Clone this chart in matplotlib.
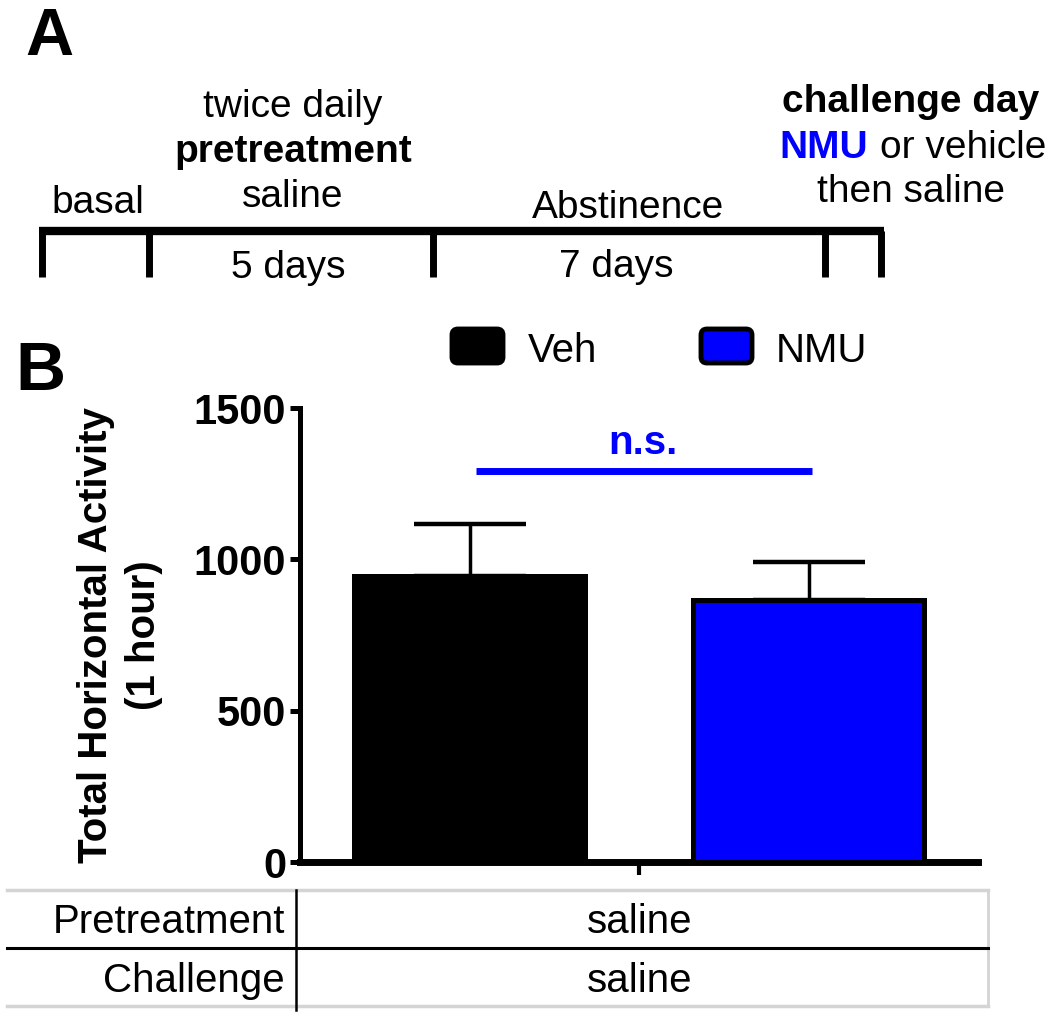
import matplotlib
matplotlib.use('Agg')
import matplotlib.pyplot as plt
from matplotlib.patches import FancyBboxPatch

plt.rcParams['font.family'] = ['Liberation Sans', 'DejaVu Sans']

# bar data (panel B)
groups = ['Veh', 'NMU']
means = [945, 866]
sems = [172, 125]
bar_colors = ['#000000', '#0000ff']
sig_level = 1292
sig_text = 'n.s.'
y_ticks = [0, 500, 1000, 1500]

# table under the bars
row_labels = ['Pretreatment', 'Challenge']
row_values = ['saline', 'saline']

W, H = 1050, 1018
fig = plt.figure(figsize=(W / 100, H / 100), dpi=100)

# overlay in pixel coords for the schematic, legend and table
ov = fig.add_axes([0, 0, 1, 1], zorder=0)
ov.set_xlim(0, W)
ov.set_ylim(H, 0)
ov.axis('off')

# ---- panel A: timeline ----
fs = 28
ov.text(25, 55, 'A', fontsize=48, fontweight='bold', va='baseline')
ov.plot([39, 884], [231, 231], color='k', lw=6, solid_capstyle='butt')
for x in [41.5, 149, 433, 825, 881]:
    ov.plot([x, x], [231, 277], color='k', lw=5, solid_capstyle='butt')
ov.text(98, 213, 'basal', fontsize=fs, ha='center', va='baseline')
ov.text(293, 117, 'twice daily', fontsize=fs, ha='center', va='baseline')
ov.text(293, 162, 'pretreatment', fontsize=fs, fontweight='bold', ha='center', va='baseline')
ov.text(293, 207, 'saline', fontsize=fs, ha='center', va='baseline')
ov.text(628, 218, 'Abstinence', fontsize=fs, ha='center', va='baseline')
ov.text(288, 278, '5 days', fontsize=fs, ha='center', va='baseline')
ov.text(616, 277, '7 days', fontsize=fs, ha='center', va='baseline')
ov.text(911, 112, 'challenge day', fontsize=fs, fontweight='bold', ha='center', va='baseline')
ov.text(779, 158, 'NMU', fontsize=fs, fontweight='bold', color='#0000ff', va='baseline')
ov.text(1046, 158, 'or vehicle', fontsize=fs, ha='right', va='baseline')
ov.text(911, 202, 'then saline', fontsize=fs, ha='center', va='baseline')

# ---- panel B label + legend ----
ov.text(15, 390, 'B', fontsize=50, fontweight='bold', va='baseline')
for (px, tx), lab, col in zip([(450, 528), (699, 776)], groups, bar_colors):
    ov.add_patch(FancyBboxPatch((px + 2, 329), 51, 34, boxstyle='round,pad=0,rounding_size=6',
                                facecolor=col, edgecolor='k', lw=3.5))
    ov.text(tx, 362, lab, fontsize=29, va='baseline')

# ---- table ----
gray = '#d4d4d4'
ov.plot([7, 988], [890, 890], color=gray, lw=2.5)
ov.plot([7, 988], [1006, 1006], color=gray, lw=2.5)
ov.plot([988, 988], [890, 1006], color=gray, lw=2)
ov.plot([7, 988], [948, 948], color='k', lw=2.2)
ov.plot([296, 296], [890, 1010], color='k', lw=1.8)
for yb, lab, val in zip([933, 992], row_labels, row_values):
    ov.text(285, yb, lab, fontsize=29, ha='right', va='baseline')
    ov.text(640, yb, val, fontsize=29, ha='center', va='baseline')

# ---- bar chart ----
ax = fig.add_axes([300 / W, 1 - 862 / H, 678 / W, 454 / H], zorder=2)
ax.patch.set_alpha(0)
xpos = [0.25, 0.75]
for x, m, s, c in zip(xpos, means, sems, bar_colors):
    ax.bar(x, m, width=0.34, color=c, edgecolor='k', linewidth=3.6, zorder=3)
    ax.errorbar(x, m, yerr=[[0], [s]], color='k', elinewidth=2.5, capsize=40, capthick=3.2, zorder=2)
ax.plot([0.26, 0.755], [sig_level, sig_level], color='#0000ff', lw=5, solid_capstyle='butt', clip_on=False)
ax.text(0.505, sig_level + 30, sig_text, color='#0000ff', fontsize=29, fontweight='bold',
        ha='center', va='bottom')

ax.set_xlim(0, 1)
ax.set_ylim(0, 1500)
ax.set_yticks(y_ticks)
ax.set_yticklabels([str(v) for v in y_ticks], fontsize=30, fontweight='bold')
ax.set_xticks([0.5])
ax.set_xticklabels([''])
for sp in ['top', 'right']:
    ax.spines[sp].set_visible(False)
ax.spines['left'].set_linewidth(3.6)
ax.spines['bottom'].set_linewidth(5)
ax.tick_params(axis='y', length=7, width=3.6, pad=3)
ax.tick_params(axis='x', length=9, width=3, direction='out')
ax.set_ylabel('Total Horizontal Activity\n(1 hour)', fontsize=29, fontweight='bold',
              linespacing=1.35, labelpad=22)

fig.savefig('out.png', dpi=100)
